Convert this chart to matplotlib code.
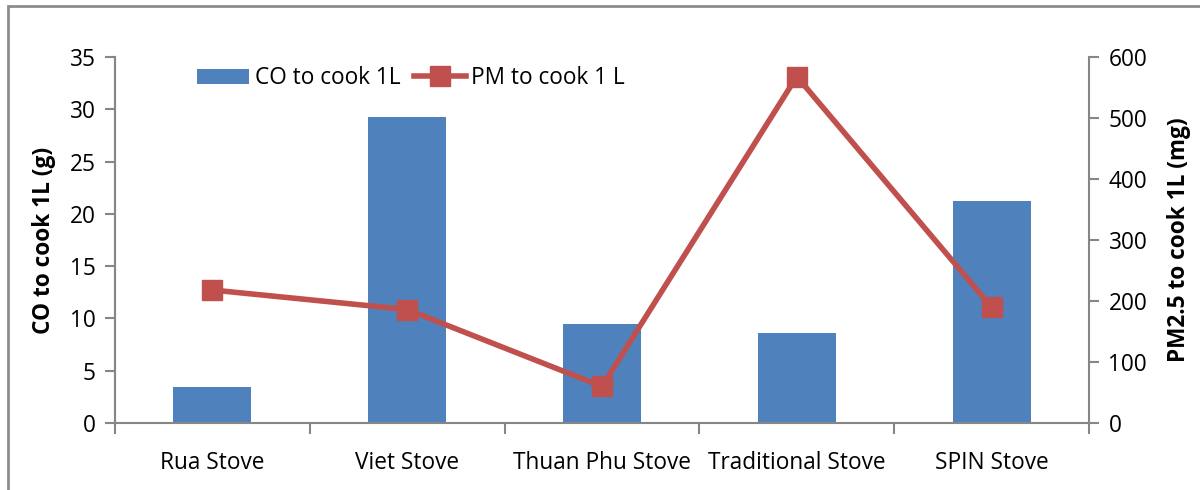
import numpy as np
import matplotlib
matplotlib.use("Agg")
import matplotlib.pyplot as plt
from matplotlib.patches import Rectangle

plt.rcParams['font.family'] = ['Open Sans', 'DejaVu Sans']

stoves = ['Rua Stove', 'Viet Stove', 'Thuan Phu Stove', 'Traditional Stove', 'SPIN Stove']
co_g = [3.4, 29.3, 9.5, 8.6, 21.2]
pm_mg = [218, 186, 60, 568, 190]

blue = '#4F81BD'
red = '#C0504D'
grey = '#868686'
fs = 16.3

fig = plt.figure(figsize=(12, 4.9), dpi=100)
ax = fig.add_axes([0.0958, 0.1367, 0.8117, 0.747])
ax2 = ax.twinx()

x = np.arange(len(stoves))
bars = ax.bar(x, co_g, width=0.4, color=blue, label='CO to cook 1L', zorder=2)
line, = ax2.plot(x, pm_mg, color=red, lw=4, marker='s', markersize=14.5,
                 label='PM to cook 1 L', zorder=3)

ax.set_xlim(-0.5, len(stoves) - 0.5)
ax.set_ylim(0, 35)
ax.set_yticks(range(0, 36, 5))
ax2.set_ylim(0, 600)
ax2.set_yticks(range(0, 601, 100))

# category ticks sit on the boundaries, labels in the middle
ax.set_xticks(x)
ax.set_xticklabels(stoves)
ax.set_xticks(np.arange(-0.5, len(stoves)), minor=True)
ax.tick_params(axis='x', which='major', length=0, pad=20, labelsize=fs)
ax.tick_params(axis='x', which='minor', length=8, width=1.5, color=grey, direction='out')
ax.tick_params(axis='y', length=7, width=1.5, color=grey, labelsize=fs, pad=7)
ax2.tick_params(axis='y', length=7, width=1.5, color=grey, labelsize=fs, pad=7)

for a in (ax, ax2):
    a.spines['top'].set_visible(False)
    for s in ('left', 'right', 'bottom'):
        a.spines[s].set_color(grey)
        a.spines[s].set_linewidth(1.5)
ax2.spines['bottom'].set_visible(False)
ax.spines['right'].set_visible(False)

ax.set_ylabel('CO to cook 1L (g)', fontsize=fs, fontweight='bold', labelpad=10)
ax2.set_ylabel('PM2.5 to cook 1L (mg)', fontsize=fs, fontweight='bold', labelpad=14)

fig.legend([bars, line], ['CO to cook 1L', 'PM to cook 1 L'],
           loc='center left', bbox_to_anchor=(0.147, 0.84), ncol=2, frameon=False,
           fontsize=fs, handlelength=2.3, handletextpad=0.25, columnspacing=0.6)

# outer chart border
fig.add_artist(Rectangle((8 / 1200, -0.1), 1.2, 1 - 6 / 490 + 0.1,
                         transform=fig.transFigure, fill=False,
                         edgecolor='#8c8c8c', lw=2))

fig.savefig('out.png', dpi=100)
